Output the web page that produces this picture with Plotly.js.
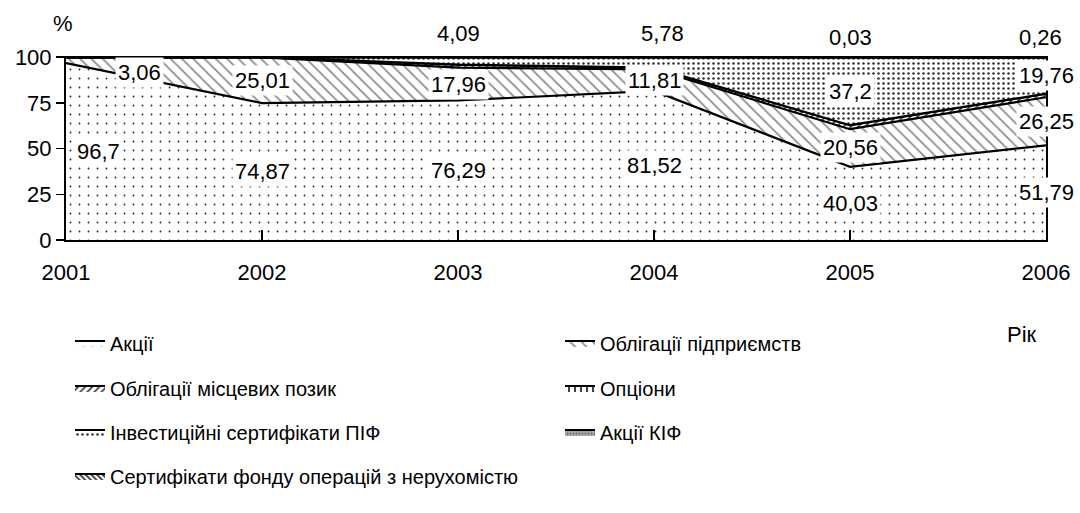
<!DOCTYPE html>
<html>
<head>
<meta charset="utf-8">
<script src="https://cdn.plot.ly/plotly-3.0.1.min.js"></script>
<style>
html,body{margin:0;padding:0;background:#fff;}
#chart{width:1080px;height:513px;}
</style>
</head>
<body>
<div id="chart"></div>
<script>
// ---- data ----
const years = [2001, 2002, 2003, 2004, 2005, 2006];
const seriesNames = [
  "Акції",
  "Облігації підприємств",
  "Облігації місцевих позик",
  "Опціони",
  "Інвестиційні сертифікати ПІФ",
  "Акції КІФ",
  "Сертифікати фонду операцій з нерухомістю"
];
const akcii      = [96.7, 74.87, 76.29, 81.52, 40.03, 51.79];
const oblPidpr   = [3.06, 25.01, 17.96, 11.81, 20.56, 26.25];
const oblMisc    = [0.24, 0.12, 1.66, 0.89, 2.18, 1.94];
const opciony    = [0, 0, 0, 0, 0, 0];
const pif        = [0, 0, 4.09, 5.78, 37.2, 19.76];
const kif        = [0, 0, 0, 0, 0, 0];
const nerukh     = [0, 0, 0, 0, 0.03, 0.26];
// which values carry a data label
const labelled = [
  [true, true, true, true, true, true],
  [true, true, true, true, true, true],
  [false, false, false, false, false, false],
  [false, false, false, false, false, false],
  [false, false, true, true, true, true],
  [false, false, false, false, false, false],
  [false, false, false, false, true, true]
];
const yTicks = [0, 25, 50, 75, 100];
const yUnit = "%";
const xUnit = "Рік";

const allSeries = [akcii, oblPidpr, oblMisc, opciony, pif, kif, nerukh];

const FONT = "'Liberation Sans Narrow', 'Liberation Sans', Arial, sans-serif";
const BIG = 22, LEG = 20;

// styles
const patterns = [
  {shape: ".", size: 9, solidity: 0.03, fgcolor: "#222", bgcolor: "#fff"},
  {shape: "\\", size: 8, solidity: 0.2, fgcolor: "#888", bgcolor: "#fff"},
  {shape: "/", size: 5, solidity: 0.35, fgcolor: "#444", bgcolor: "#fff"},
  {shape: "|", size: 6, solidity: 0.25, fgcolor: "#000", bgcolor: "#fff"},
  {shape: ".", size: 5, solidity: 0.2, fgcolor: "#333", bgcolor: "#fff"},
  {shape: ".", size: 3, solidity: 0.5, fgcolor: "#777", bgcolor: "#bbb"},
  {shape: "\\", size: 4, solidity: 0.45, fgcolor: "#333", bgcolor: "#fff"}
];
// legend grid: 2 columns, filled row by row
const legendCols = [70, 560];
const legendRows = [343, 388, 432, 476];

const traces = allSeries.map((vals, i) => ({
  type: "scatter",
  mode: "lines",
  x: years,
  y: vals,
  name: seriesNames[i],
  stackgroup: "one",
  line: {color: "#000", width: 2.2},
  fillpattern: patterns[i],
  fillcolor: "#fff",
  legend: i === 0 ? "legend" : "legend" + (i + 1),
  hoverinfo: "skip"
}));

// data labels: centred in their band
const annotations = [];
const fmt = v => String(v).replace(".", ",");
for (let j = 0; j < years.length; j++) {
  let base = 0;
  for (let i = 0; i < allSeries.length; i++) {
    const v = allSeries[i][j];
    if (labelled[i][j]) {
      let yPos = base + v / 2;
      let xshift = 0, yshift = 0, yanchor = "middle";
      if (v < 7 && i >= 4) {            // thin bands at the top: label above the plot
        yPos = 100; yanchor = "bottom"; yshift = 8 + (j >= 4 ? -4 : 0);
      }
      if (j === 0) { xshift = 32 + (i === 1 ? 41 : 0); if (i === 1) yshift = -12; }
      if (j === 3 && i === 4) xshift = 8;
      if (j === 5 && i === 6) xshift = -6;
      annotations.push({
        x: years[j], y: yPos, xref: "x", yref: "y",
        text: fmt(v), showarrow: false,
        xshift: xshift, yshift: yshift, yanchor: yanchor,
        bgcolor: "#fff", borderpad: 2,
        font: {family: FONT, size: BIG, color: "#000"}
      });
    }
    base += v;
  }
}
annotations.push({text: yUnit, xref: "paper", yref: "paper", x: -0.003, y: 1.174,
  xanchor: "center", yanchor: "middle",
  showarrow: false, font: {family: FONT, size: BIG, color: "#000"}});
annotations.push({text: xUnit, xref: "paper", yref: "paper", x: 0.9755, y: -0.516,
  xanchor: "center", yanchor: "middle",
  showarrow: false, font: {family: FONT, size: BIG, color: "#000"}});

const layout = {
  width: 1080, height: 513,
  margin: {l: 66, r: 34, t: 56, b: 273, autoexpand: false},
  paper_bgcolor: "#fff", plot_bgcolor: "#fff",
  font: {family: FONT, size: BIG, color: "#000"},
  showlegend: true,
  xaxis: {
    range: [2001, 2006], tickvals: years, ticktext: years.map(String),
    showgrid: false, zeroline: false, showline: true, linecolor: "#000", linewidth: 2,
    ticks: "inside", ticklen: 10, tickwidth: 1.5, tickcolor: "#000",
    ticklabelstandoff: 12,
    tickfont: {family: FONT, size: BIG}, fixedrange: true, automargin: false
  },
  yaxis: {
    range: [0, 100.6], tickvals: yTicks, ticktext: yTicks.map(String),
    showgrid: false, zeroline: false, showline: true, mirror: true, linecolor: "#000", linewidth: 2,
    ticks: "outside", ticklen: 8, tickwidth: 1.5, tickcolor: "#000",
    tickfont: {family: FONT, size: BIG}, fixedrange: true, automargin: false
  },
  annotations: annotations
};
seriesNames.forEach((nm, i) => {
  const key = i === 0 ? "legend" : "legend" + (i + 1);
  layout[key] = {
    xref: "container", yref: "container",
    x: legendCols[i % 2] / 1080, y: 1 - legendRows[Math.floor(i / 2)] / 513,
    xanchor: "left", yanchor: "middle",
    itemwidth: 30, bgcolor: "rgba(0,0,0,0)",
    font: {family: FONT, size: LEG, color: "#000"}
  };
});

Plotly.newPlot("chart", traces, layout, {displayModeBar: false, staticPlot: true});
</script>
</body>
</html>
